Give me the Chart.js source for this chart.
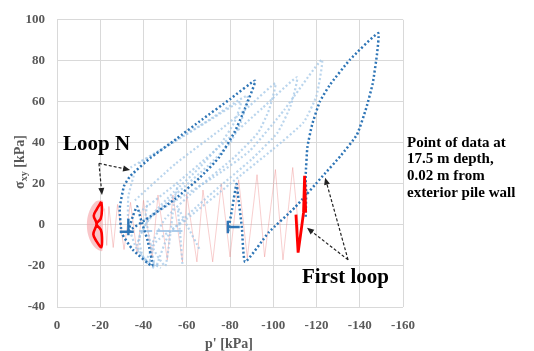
<!DOCTYPE html>
<html><head><meta charset="utf-8">
<script src="https://cdn.jsdelivr.net/npm/chart.js@4.4.1/dist/chart.umd.min.js"></script>
<style>html,body{margin:0;padding:0;background:#fff;}#wrap{width:534px;height:351px;}</style>
</head><body><div id="wrap"><canvas id="c" width="534" height="351"></canvas></div>
<script>
// ---- tick values ----
const xTickValues = [0,-20,-40,-60,-80,-100,-120,-140,-160];
const yTickValues = [-40,-20,0,20,40,60,80,100];

// ---- dark stress paths (p', sigma_xy) ----
const darkFirstLoop = [[-115,4],[-115.2,15],[-115,24],[-115.8,38],[-118,49],[-121.5,60],[-126,68],[-135.5,80.6],[-148.5,93.5],[-148,83.5],[-146,69],[-143,57],[-138.7,44],[-131,33.5],[-123,24],[-110,8.5],[-98,-3.5],[-87,-18],[-85.5,-1.4],[-83.7,14.6],[-83,20],[-81,8],[-79,-4]];
const darkLoopN = [[-33,-3],[-43,4],[-55,13],[-66,23],[-75,33],[-82,45],[-87,57],[-91.6,70.3],[-80,61.3],[-67,51.3],[-55,41.8],[-43,32.5],[-34,24],[-31,19],[-29,8],[-30,-4],[-35,-12],[-44,-20],[-42,-8],[-39,2],[-37,9],[-35,4],[-33,-3]];
const darkMarkA = [[-84.5,-1],[-79,-1],[-79,-4],[-79,2]];
const darkMarkB = [[-35.5,-3.3],[-29,-3.3],[-33,-3.3],[-33,-5],[-33,3]];

// ---- intermediate (light) loops ----
const lightLoop1 = [[-40,2],[-55,12],[-72,23],[-89,36],[-105,56],[-122.5,80.6],[-120,63],[-114,50],[-100,37],[-80,20],[-60,3],[-46,-8],[-42,-16],[-47,-20]];
const lightLoop2 = [[-38,6],[-55,20],[-75,38],[-95,57],[-111,72],[-108,58],[-102,45],[-90,32],[-70,14],[-52,-4],[-46,-20]];
const lightLoop3 = [[-36,12],[-55,30],[-75,46],[-89,58],[-101,69],[-98,56],[-93,45],[-82,33],[-65,18],[-50,3],[-44,-10],[-50,-20],[-52,-8],[-54,10],[-56,20]];
const lightLoop4 = [[-34,28],[-50,38],[-70,51],[-88,63],[-85,50],[-80,40],[-70,29],[-55,15],[-42,2],[-37,-10],[-42,-19]];
const lightLoop5 = [[-38,30],[-55,41],[-72,52],[-85,60],[-82,50],[-76,40],[-66,28],[-54,16],[-44,5],[-38,-6],[-40,-16],[-48,-21]];
const lightLoop6 = [[-36,26],[-33,14],[-33,0],[-37,-12],[-45,-21],[-43,-8],[-41,4],[-42,12]];
const lightLoop7 = [[-58,-19],[-57,-5],[-56,8],[-60,0],[-66,-12]];
const lightMarks = [[-38,-3],[-44,-3],[null,null],[-46,-3],[-52,-3],[null,null],[-53,-3],[-58,-3]];

// ---- red paths ----
const redZigzag = [[-112,-5],[-109,28],[-104.5,-17],[-101,27],[-96,-15.6],[-92.5,24.5],[-88,-16],[-84,22],[-80,-15.6],[-76,20],[-72,-18],[-67.5,17],[-64.7,-18],[-60,15],[-58,-18],[-53.6,14.6],[-51,-17],[-46.7,14.6],[-44,-16],[-40,12],[-37,-14],[-34,11],[-31,-12],[-28,10],[-26,-11],[-24,9],[-23,-10],[-22,8]];
const redFirstLoop = [[-110.5,5],[-111.5,-13.5],[-113,-2],[-114,6],[-114.5,24],[-115,6]];
const redLoopN = [[-20.5,11.3],[-18.3,7.5],[-17,4.5],[-18.3,0.5],[-16.8,-4.5],[-18.3,-8],[-20.5,-10.8],[-20.8,-6],[-20.3,-2.5],[-18.3,0.5],[-20.2,3],[-20.8,7.5],[-20.5,11.3]];
const pinkCloud = [[-21,12],[-18,11.5],[-15.5,8],[-14,3],[-14,-3],[-15.5,-8],[-18,-11.5],[-21,-12.5],[-21,12]];

// ---- layout (not data) ----
const layoutCfg = {
  loopNArrow:{from:[-19.4,30],to:[[-33.8,26.8],[-20.8,14.6]]},
  firstArrow:{from:[-134.6,-17],to:[[-115.6,-1.4],[-124,23]]}
};

const pts = a => a.map(([x,y]) => (x===null?{x:NaN,y:NaN}:{x,y}));
const DARK = '#2e75b6', LIGHT = 'rgba(157,195,230,0.7)';
function dotted(data,color,order,w){return {data:pts(data),showLine:true,borderColor:color,borderWidth:w||2.2,borderDash:[2,2.3],pointRadius:0,tension:0.15,fill:false,order:order,spanGaps:false};}
function solid(data,color,w,order,t){return {data:pts(data),showLine:true,borderColor:color,borderWidth:w,pointRadius:0,tension:t||0,fill:false,order:order,spanGaps:false};}

const datasets = [
  {data:pts(pinkCloud),showLine:true,borderWidth:0,borderColor:'rgba(0,0,0,0)',backgroundColor:'rgba(245,160,165,0.6)',fill:'shape',pointRadius:0,tension:0.3,order:20},
  solid(redZigzag,'rgba(235,120,120,0.45)',0.8,15),
  dotted(lightLoop1,LIGHT,10),dotted(lightLoop2,LIGHT,10),dotted(lightLoop3,LIGHT,10),
  dotted(lightLoop4,LIGHT,10),dotted(lightLoop5,LIGHT,10),dotted(lightLoop6,LIGHT,10),dotted(lightLoop7,LIGHT,10),
  solid(lightMarks,'rgba(157,195,230,0.85)',2,9),
  dotted(darkFirstLoop,DARK,5,2.5),dotted(darkLoopN,DARK,5,2.5),
  solid(darkMarkA,DARK,2.4,4),solid(darkMarkB,DARK,2.4,4),
  solid(redFirstLoop,'#ff0000',2.8,1),solid(redLoopN,'#ff0000',2.6,1,0.35)
];

const SERIF = '"Liberation Serif","DejaVu Serif",serif';

const annot = {
  id:'annot',
  afterDraw(chart){
    const ctx = chart.ctx, xs = chart.scales.x, ys = chart.scales.y;
    const P = ([x,y]) => [xs.getPixelForValue(x), ys.getPixelForValue(y)];
    function arrow(from,to){
      const [x0,y0]=P(from),[x1,y1]=P(to);
      ctx.save();ctx.strokeStyle='#222';ctx.fillStyle='#222';ctx.lineWidth=1.2;ctx.setLineDash([3,2]);
      const ang=Math.atan2(y1-y0,x1-x0);
      ctx.beginPath();ctx.moveTo(x0,y0);ctx.lineTo(x1-5*Math.cos(ang),y1-5*Math.sin(ang));ctx.stroke();
      ctx.setLineDash([]);
      ctx.beginPath();ctx.moveTo(x1,y1);
      ctx.lineTo(x1-7*Math.cos(ang)+3*Math.sin(ang),y1-7*Math.sin(ang)-3*Math.cos(ang));
      ctx.lineTo(x1-7*Math.cos(ang)-3*Math.sin(ang),y1-7*Math.sin(ang)+3*Math.cos(ang));
      ctx.closePath();ctx.fill();ctx.restore();
    }
    layoutCfg.loopNArrow.to.forEach(t=>arrow(layoutCfg.loopNArrow.from,t));
    layoutCfg.firstArrow.to.forEach(t=>arrow(layoutCfg.firstArrow.from,t));
    ctx.save();
    ctx.fillStyle='#000';ctx.textBaseline='alphabetic';ctx.textAlign='left';
    ctx.font='bold 21px '+SERIF;
    ctx.fillText('Loop N',63,150);
    ctx.fillText('First loop',302,283);
    ctx.font='bold 15px '+SERIF;
    ['Point of data at','17.5 m depth,','0.02 m from','exterior pile wall'].forEach((s,i)=>ctx.fillText(s,407,146.5+i*16.7));
    // axis titles
    ctx.fillStyle='#595959';
    ctx.font='bold 14px '+SERIF;ctx.textAlign='center';
    ctx.fillText("p' [kPa]",229,348);
    ctx.translate(24,162);ctx.rotate(-Math.PI/2);
    ctx.textAlign='left';
    const s1='σ', s2='xy', s3=' [kPa]';
    ctx.font='bold 14px '+SERIF; const w1=ctx.measureText(s1).width, w3=ctx.measureText(s3).width;
    ctx.font='bold 10px '+SERIF; const w2=ctx.measureText(s2).width;
    let x=-(w1+w2+w3)/2;
    ctx.font='bold 14px '+SERIF; ctx.fillText(s1,x,0); x+=w1;
    ctx.font='bold 10px '+SERIF; ctx.fillText(s2,x,3); x+=w2;
    ctx.font='bold 14px '+SERIF; ctx.fillText(s3,x,0);
    ctx.restore();
  }
};

new Chart(document.getElementById('c'),{
  type:'scatter',
  data:{datasets},
  options:{
    responsive:false,animation:false,devicePixelRatio:1,
    layout:{padding:{left:0,right:131,top:14,bottom:0}},
    plugins:{legend:{display:false},tooltip:{enabled:false}},
    scales:{
      x:{type:'linear',reverse:true,min:-160,max:0,
        afterBuildTicks(s){s.ticks=xTickValues.map(v=>({value:v}));},
        afterFit(s){s.height=44;},
        grid:{color:'#d9d9d9',lineWidth:1,drawTicks:false},border:{display:false},
        ticks:{padding:11,color:'#595959',font:{family:SERIF,size:13,weight:'bold'},maxRotation:0,autoSkip:false}},
      y:{type:'linear',min:-40,max:100,
        afterBuildTicks(s){s.ticks=yTickValues.map(v=>({value:v}));},
        afterFit(s){s.width=57;},
        grid:{color:'#d9d9d9',lineWidth:1,drawTicks:false},border:{display:false},
        ticks:{padding:12,color:'#595959',font:{family:SERIF,size:13,weight:'bold'}}}
    }
  },
  plugins:[annot]
});
</script></body></html>
